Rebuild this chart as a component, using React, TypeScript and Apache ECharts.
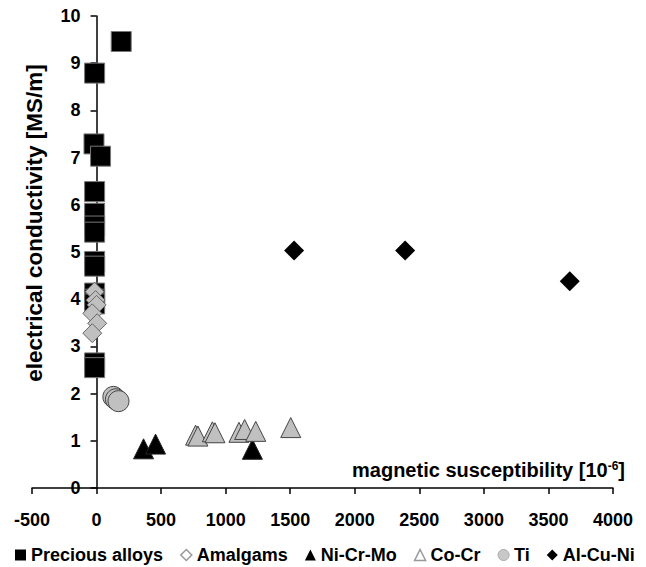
import React, { useEffect, useRef } from "react";
import * as echarts from "echarts";

const FONT = '"Liberation Sans", Arial, sans-serif';

const xTicks = { min: -500, max: 4000, interval: 500 };
const yTicks = { min: 0, max: 10, interval: 1 };

const seriesNames = ["Precious alloys", "Amalgams", "Ni-Cr-Mo", "Co-Cr", "Ti", "Al-Cu-Ni"];

const preciousAlloys = [
  [191, 9.46], [-15, 8.79], [-20, 7.29], [31, 7.03], [-15, 6.28], [-15, 5.82],
  [-15, 5.55], [-15, 5.42], [-15, 4.8], [-15, 4.7], [-15, 4.13], [-15, 4.0],
  [-15, 3.9], [-15, 2.65], [-15, 2.55],
];
const amalgams = [
  [-15, 4.16], [-8, 3.98], [0, 3.88], [-33, 3.7], [5, 3.49], [-33, 3.28],
];
const niCrMo = [
  [364, 0.83], [457, 0.93], [1207, 0.82],
];
const coCr = [
  [767, 1.12], [785, 1.1], [897, 1.19], [917, 1.17], [1103, 1.18], [1147, 1.24],
  [1233, 1.2], [1504, 1.28],
];
const ti = [
  [130, 1.93], [150, 1.88], [170, 1.84],
];
const alCuNi = [
  [1530, 5.03], [2390, 5.03], [3665, 4.38],
];

const GRID_LEFT = 32;
const GRID_RIGHT = 33;
const WIDTH = 646;

export default function App() {
  const ref = useRef<HTMLDivElement>(null);

  useEffect(() => {
    document.body.style.margin = "0";
    if (!ref.current) return;
    const chart = echarts.init(ref.current, undefined, { renderer: "svg" });

    const axisLineStyle = { color: "#000", width: 1.5 };
    const labelStyle = {
      color: "#000",
      fontWeight: "bold" as const,
      fontSize: 18,
      fontFamily: FONT,
    };

    // y axis crosses the x axis at x = 0
    const plotW = WIDTH - GRID_LEFT - GRID_RIGHT;
    const zeroOffset = ((0 - xTicks.min) / (xTicks.max - xTicks.min)) * plotW;

    const gray = "#c0c0c0";

    chart.setOption({
      animation: false,
      backgroundColor: "#fff",
      grid: { left: GRID_LEFT, right: GRID_RIGHT, top: 16, bottom: 79, outerBoundsMode: "none", containLabel: false },
      xAxis: {
        type: "value",
        min: xTicks.min,
        max: xTicks.max,
        interval: xTicks.interval,
        axisLine: { onZero: false, lineStyle: axisLineStyle },
        axisTick: { show: true, length: 6, lineStyle: axisLineStyle },
        axisLabel: { ...labelStyle, margin: 23, formatter: (v: number) => String(v) },
        splitLine: { show: false },
      },
      yAxis: {
        type: "value",
        min: yTicks.min,
        max: yTicks.max,
        interval: yTicks.interval,
        offset: -zeroOffset,
        axisLine: { show: true, onZero: false, lineStyle: axisLineStyle },
        axisTick: { show: true, length: 6, lineStyle: axisLineStyle },
        axisLabel: { ...labelStyle, margin: 16, formatter: (v: number) => String(v) },
        splitLine: { show: false },
      },
      legend: {
        left: 10,
        top: 541,
        itemGap: 17,
        itemWidth: 11,
        itemHeight: 11,
        selectedMode: false,
        textStyle: { ...labelStyle, fontSize: 18 },
        data: [
          { name: seriesNames[0], icon: "rect", itemStyle: { color: "#000", borderWidth: 0 } },
          { name: seriesNames[1], icon: "diamond", itemStyle: { color: "#fff", borderColor: "#999", borderWidth: 1.5 } },
          { name: seriesNames[2], icon: "triangle", itemStyle: { color: "#000", borderWidth: 0 } },
          { name: seriesNames[3], icon: "triangle", itemStyle: { color: "#fff", borderColor: "#999", borderWidth: 1.5 } },
          { name: seriesNames[4], icon: "circle", itemStyle: { color: "#c8c8c8", borderColor: "#aaa", borderWidth: 1 } },
          { name: seriesNames[5], icon: "diamond", itemStyle: { color: "#000", borderWidth: 0 } },
        ],
      },
      series: [
        {
          name: seriesNames[0],
          type: "scatter",
          symbol: "rect",
          symbolSize: 20,
          data: preciousAlloys,
          itemStyle: { color: "#000", borderColor: "#777", borderWidth: 1, opacity: 1 },
        },
        {
          name: seriesNames[1],
          type: "scatter",
          symbol: "diamond",
          symbolSize: 19,
          data: amalgams,
          itemStyle: { color: gray, borderColor: "#666", borderWidth: 1, opacity: 1 },
        },
        {
          name: seriesNames[2],
          type: "scatter",
          symbol: "triangle",
          symbolSize: 20,
          data: niCrMo,
          itemStyle: { color: "#000", borderColor: "#222", borderWidth: 1, opacity: 1 },
        },
        {
          name: seriesNames[3],
          type: "scatter",
          symbol: "triangle",
          symbolSize: 20,
          data: coCr,
          itemStyle: { color: gray, borderColor: "#444", borderWidth: 1, opacity: 1 },
        },
        {
          name: seriesNames[4],
          type: "scatter",
          symbol: "circle",
          symbolSize: 21,
          data: ti,
          itemStyle: { color: gray, borderColor: "#444", borderWidth: 1, opacity: 1 },
        },
        {
          name: seriesNames[5],
          type: "scatter",
          symbol: "diamond",
          symbolSize: 20,
          data: alCuNi,
          itemStyle: { color: "#000", borderWidth: 0, opacity: 1 },
        },
      ],
      graphic: [
        {
          type: "text",
          x: 34,
          y: 223,
          rotation: Math.PI / 2,
          style: {
            text: "electrical conductivity [MS/m]",
            font: `bold 22.5px ${FONT}`,
            fill: "#000",
            align: "center",
            verticalAlign: "middle",
          },
        },
        {
          type: "text",
          x: 625,
          y: 470,
          style: {
            text: "{a|magnetic susceptibility [10}{s|-6}{a|]}",
            rich: {
              a: { font: `bold 20px ${FONT}`, fill: "#000", verticalAlign: "bottom" },
              s: { font: `bold 12px ${FONT}`, fill: "#000", verticalAlign: "top" },
            },
            fill: "#000",
            align: "right",
            verticalAlign: "middle",
          },
        },
      ],
    });

    return () => chart.dispose();
  }, []);

  return <div ref={ref} style={{ width: 646, height: 567 }} />;
}
